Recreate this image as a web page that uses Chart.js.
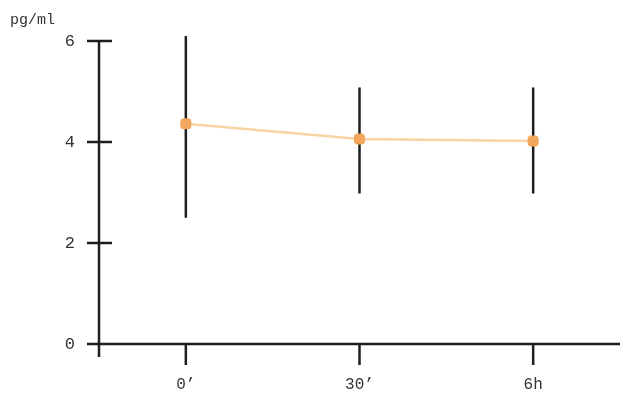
<!DOCTYPE html>
<html>
<head>
<meta charset="utf-8">
<script src="https://cdn.jsdelivr.net/npm/chart.js@4"></script>
<style>
  html, body { margin: 0; padding: 0; background: #fff; }
  #wrap { width: 621px; height: 397px; }
</style>
</head>
<body>
<div id="wrap"><canvas id="chart" width="621" height="397"></canvas></div>
<script>
// data
const categories = ["0\u2019", "30\u2019", "6h"];
const means = [4.36, 4.06, 4.02];
const upper = [6.1, 5.08, 5.08];
const lower = [2.5, 2.98, 2.98];
const yTicks = [0, 2, 4, 6];
const unitLabel = "pg/ml";

const axisColor = "#1e1e1e";
const fontFam = "'Liberation Mono', 'DejaVu Sans Mono', monospace";

// axes, ticks and error bars drawn with the chart's own scales
const axesPlugin = {
  id: "axes",
  beforeDatasetsDraw(chart) {
    const ctx = chart.ctx;
    const x = chart.scales.x;
    const y = chart.scales.y;
    const x0 = chart.chartArea.left;
    const y0 = y.getPixelForValue(0);

    ctx.save();
    ctx.strokeStyle = axisColor;
    ctx.lineWidth = 2.5;
    ctx.lineCap = "butt";

    // y axis line
    ctx.beginPath();
    ctx.moveTo(x0, y.getPixelForValue(6) - 1);
    ctx.lineTo(x0, y0 + 13);
    ctx.stroke();

    // x axis line
    ctx.beginPath();
    ctx.moveTo(x0 - 12, y0);
    ctx.lineTo(chart.chartArea.right, y0);
    ctx.stroke();

    // y ticks (cross both sides)
    yTicks.forEach(v => {
      if (v === 0) return;
      const py = y.getPixelForValue(v);
      ctx.beginPath();
      ctx.moveTo(x0 - 12, py);
      ctx.lineTo(x0 + 13, py);
      ctx.stroke();
    });

    // x ticks
    categories.forEach((c, i) => {
      const px = x.getPixelForValue(i);
      ctx.beginPath();
      ctx.moveTo(px, y0);
      ctx.lineTo(px, y0 + 21);
      ctx.stroke();
    });

    // error bars
    categories.forEach((c, i) => {
      const px = x.getPixelForValue(i);
      ctx.beginPath();
      ctx.moveTo(px, y.getPixelForValue(upper[i]));
      ctx.lineTo(px, y.getPixelForValue(lower[i]));
      ctx.stroke();
    });

    // unit label
    ctx.fillStyle = "#333";
    ctx.font = "15px " + fontFam;
    ctx.textAlign = "left";
    ctx.textBaseline = "middle";
    ctx.fillText(unitLabel, 10, 20);
    ctx.restore();
  }
};

new Chart(document.getElementById("chart"), {
  type: "line",
  data: {
    labels: categories,
    datasets: [{
      data: means,
      borderColor: "#f8d3a4",
      borderWidth: 2.5,
      backgroundColor: "#f2a75c",
      pointBackgroundColor: "#f2a75c",
      pointBorderColor: "#f2a75c",
      pointRadius: 5,
      pointStyle: "rectRounded",
      tension: 0
    }]
  },
  options: {
    responsive: false,
    animation: false,
    layout: { autoPadding: false, padding: { top: 41, right: 1, left: 0, bottom: 0 } },
    plugins: { legend: { display: false }, tooltip: { enabled: false } },
    scales: {
      x: {
        type: "category",
        offset: true,
        border: { display: false },
        grid: { display: false, drawTicks: false },
        ticks: {
          color: "#333",
          padding: 31,
          font: { family: fontFam, size: 16 }
        },
        afterFit(scale) {
          scale.height = 53;
          scale.paddingLeft = 0;
          scale.paddingRight = 0;
        }
      },
      y: {
        min: 0,
        max: 6,
        border: { display: false },
        grid: { display: false, drawTicks: false },
        afterBuildTicks(scale) { scale.ticks = yTicks.map(v => ({ value: v })); },
        ticks: {
          color: "#333",
          padding: 24,
          font: { family: fontFam, size: 17 }
        },
        afterFit(scale) { scale.width = 99; }
      }
    }
  },
  plugins: [axesPlugin]
});
</script>
</body>
</html>
